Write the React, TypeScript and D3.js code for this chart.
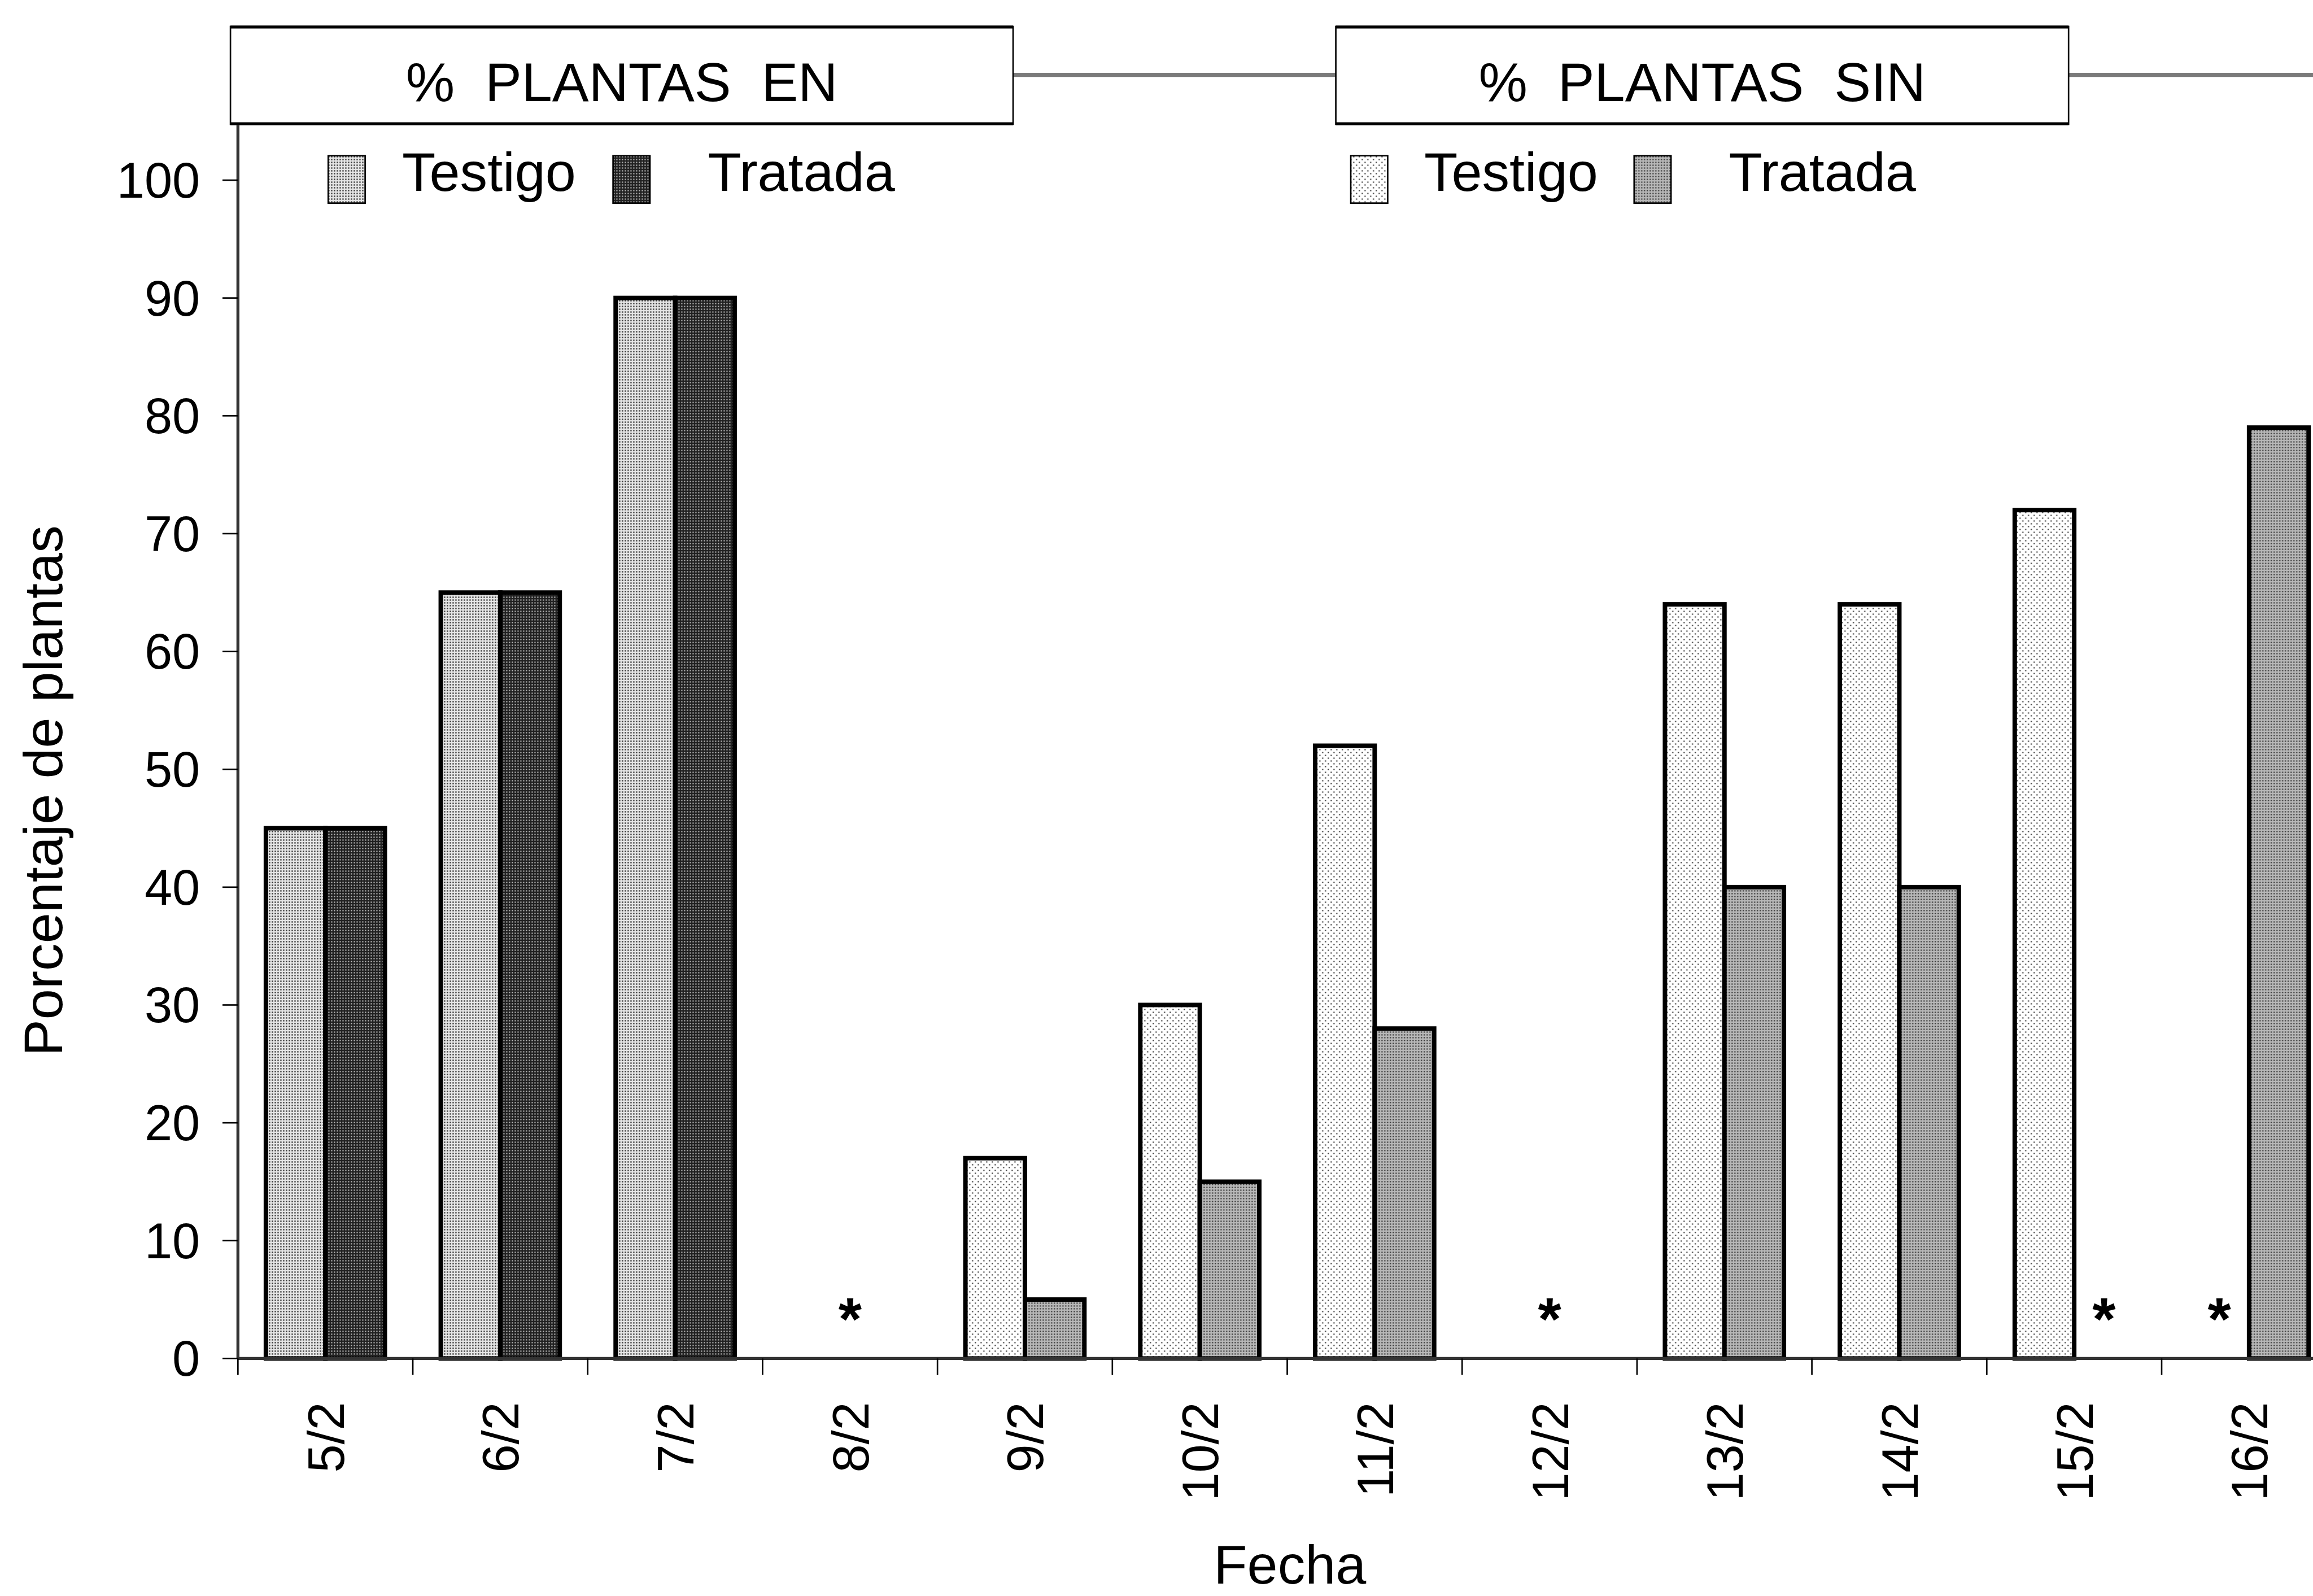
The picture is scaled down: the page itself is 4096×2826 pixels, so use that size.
import React from "react";
import * as d3 from "d3";

const categories = ["5/2", "6/2", "7/2", "8/2", "9/2", "10/2", "11/2", "12/2", "13/2", "14/2", "15/2", "16/2"];
const enTestigo = [45, 65, 90, null, null, null, null, null, null, null, null, null];
const enTratada = [45, 65, 90, null, null, null, null, null, null, null, null, null];
const sinTestigo = [null, null, null, null, 17, 30, 52, null, 64, 64, 72, null];
const sinTratada = [null, null, null, null, 5, 15, 28, null, 40, 40, null, 79];
// categories / slots without data, marked with "*"
const missingMarks = [
  { cat: "8/2", slot: "both" },
  { cat: "12/2", slot: "both" },
  { cat: "15/2", slot: "Tratada" },
  { cat: "16/2", slot: "Testigo" },
];
const yTicks = [0, 10, 20, 30, 40, 50, 60, 70, 80, 90, 100];
const slots = ["Testigo", "Tratada"];
const legendTitles = ["%  PLANTAS  EN", "%  PLANTAS  SIN"];

const W = 4637;
const H = 3199;
const FONT = "'Liberation Sans', Arial, Helvetica, sans-serif";

export default function App() {
  const x = d3.scaleBand<string>().domain(categories).range([477, 477 + 12 * 350.6]).paddingInner(0).paddingOuter(0);
  const xs = d3.scaleBand<string>().domain(slots).range([0, x.bandwidth()]).paddingInner(0).paddingOuter(0.47);
  const y = d3.scaleLinear().domain([0, 100]).range([2723, 361]);
  const y0 = y(0);

  const series = [
    { values: enTestigo, slot: "Testigo", fill: "url(#pEnTest)" },
    { values: enTratada, slot: "Tratada", fill: "url(#pEnTrat)" },
    { values: sinTestigo, slot: "Testigo", fill: "url(#pSinTest)" },
    { values: sinTratada, slot: "Tratada", fill: "url(#pSinTrat)" },
  ];

  const bars: any[] = [];
  series.forEach((s, si) => {
    s.values.forEach((v, i) => {
      if (v == null) return;
      const bx = (x(categories[i]) as number) + (xs(s.slot) as number);
      bars.push(
        <rect key={`b${si}-${i}`} x={bx} y={y(v)} width={xs.bandwidth()} height={y0 - y(v)}
          fill={s.fill} stroke="#000" strokeWidth={9} />
      );
    });
  });

  const ticksX = categories.map((c) => x(c) as number).concat([(x(categories[11]) as number) + x.bandwidth()]);

  const t = 5.66;
  return (
    <svg width={4096} height={2826} viewBox={`0 0 ${W} ${H}`}
      style={{ position: "absolute", left: 0, top: 0, background: "#fff" }}>
      <defs>
        <pattern id="pEnTest" patternUnits="userSpaceOnUse" width={t} height={t}>
          <rect width={t} height={t} fill="#e6e6e6" />
          <rect x={1.5} y={1.5} width={2.6} height={2.6} fill="#2a2a2a" />
        </pattern>
        <pattern id="pEnTrat" patternUnits="userSpaceOnUse" width={t} height={t}>
          <rect width={t} height={t} fill="#202020" />
          <rect x={1.6} y={1.6} width={2.4} height={2.4} fill="#c4c4c4" />
        </pattern>
        <pattern id="pSinTest" patternUnits="userSpaceOnUse" width={t * 2} height={t * 2}>
          <rect width={t * 2} height={t * 2} fill="#ffffff" />
          <rect x={1.6} y={1.6} width={2.4} height={2.4} fill="#303030" />
          <rect x={1.6 + t} y={1.6 + t} width={2.4} height={2.4} fill="#303030" />
        </pattern>
        <pattern id="pSinTrat" patternUnits="userSpaceOnUse" width={t} height={t}>
          <rect width={t} height={t} fill="#b8b8b8" />
          <rect x={1.6} y={1.6} width={2.4} height={2.4} fill="#2a2a2a" />
        </pattern>
      </defs>

      {/* legend boxes with connecting line */}
      <line x1={2031} x2={2678} y1={150} y2={150} stroke="#7a7a7a" strokeWidth={8} />
      <line x1={4147} x2={W} y1={150} y2={150} stroke="#7a7a7a" strokeWidth={8} />
      {[{ x0: 462, x1: 2031 }, { x0: 2678, x1: 4147 }].map((b, i) => (
        <g key={`box${i}`}>
          <rect x={b.x0} y={53} width={b.x1 - b.x0} height={196} fill="#fff" stroke="#000" strokeWidth={3} />
          <line x1={b.x0} x2={b.x1} y1={54} y2={54} stroke="#000" strokeWidth={6} />
          <line x1={b.x0} x2={b.x1} y1={248} y2={248} stroke="#000" strokeWidth={6} />
          <text x={(b.x0 + b.x1) / 2} y={202} textAnchor="middle" fontFamily={FONT} fontSize={110}
            style={{ whiteSpace: "pre" }}>{legendTitles[i]}</text>
        </g>
      ))}

      {/* legend items */}
      {[
        { sx: 658, tx: 806, fill: "url(#pEnTest)", label: "Testigo" },
        { sx: 1229, tx: 1419, fill: "url(#pEnTrat)", label: "Tratada" },
        { sx: 2708, tx: 2855, fill: "url(#pSinTest)", label: "Testigo" },
        { sx: 3276, tx: 3466, fill: "url(#pSinTrat)", label: "Tratada" },
      ].map((l, i) => (
        <g key={`leg${i}`}>
          <rect x={l.sx} y={312} width={74} height={95} fill={l.fill} stroke="#000" strokeWidth={3} />
          <text x={l.tx} y={382} fontFamily={FONT} fontSize={110}>{l.label}</text>
        </g>
      ))}

      {/* bars */}
      {bars}

      {/* asterisks */}
      {missingMarks.map((m, i) => {
        const cx = m.slot === "both"
          ? (x(m.cat) as number) + x.bandwidth() / 2
          : (x(m.cat) as number) + (xs(m.slot) as number) + xs.bandwidth() / 2;
        return (
          <text key={`ast${i}`} x={cx} y={y0 - 38} textAnchor="middle" fontFamily={FONT} fontSize={120} fontWeight="bold">*</text>
        );
      })}

      {/* y axis */}
      <line x1={477} x2={477} y1={250} y2={y0} stroke="#333" strokeWidth={6} />
      {yTicks.map((v) => (
        <g key={`yt${v}`}>
          <line x1={446} x2={477} y1={y(v)} y2={y(v)} stroke="#000" strokeWidth={3} />
          <text x={401} y={y(v)} dy="0.35em" textAnchor="end" fontFamily={FONT} fontSize={100}>{v}</text>
        </g>
      ))}

      {/* x axis */}
      <line x1={477} x2={W} y1={y0} y2={y0} stroke="#333" strokeWidth={6} />
      {ticksX.map((tx, i) => (
        <line key={`xt${i}`} x1={tx} x2={tx} y1={y0} y2={y0 + 33} stroke="#000" strokeWidth={3} />
      ))}
      {categories.map((c) => {
        const cx = (x(c) as number) + x.bandwidth() / 2;
        return (
          <text key={`xl${c}`} transform={`translate(${cx},2810) rotate(-90)`} dy="0.36em" textAnchor="end"
            fontFamily={FONT} fontSize={102}>{c}</text>
        );
      })}

      {/* axis titles */}
      <text x={2586} y={3174} textAnchor="middle" fontFamily={FONT} fontSize={110}>Fecha</text>
      <text transform="translate(125,1585) rotate(-90)" textAnchor="middle" fontFamily={FONT} fontSize={110}>Porcentaje de plantas</text>
    </svg>
  );
}
